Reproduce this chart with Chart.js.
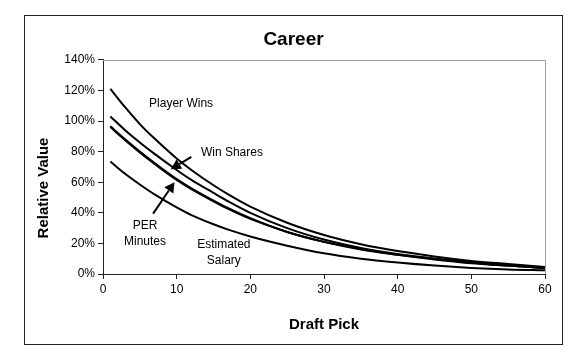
<!DOCTYPE html>
<html>
<head>
<meta charset="utf-8">
<script src="https://cdn.jsdelivr.net/npm/chart.js@4/dist/chart.umd.min.js"></script>
<style>
  html, body { margin: 0; padding: 0; background: #fff; }
  #chart { display: block; }
</style>
</head>
<body>
<canvas id="chart" width="580" height="353"></canvas>
<script>
// draft pick positions
const picks = [1, 3, 5, 7, 10, 12, 15, 17, 20, 25, 30, 35, 40, 45, 50, 55, 60];

// relative value, in percent
const playerWins = [121, 109, 98, 88.5, 75.5, 68, 58, 52, 44, 33.5, 25.5, 19.5, 15, 11.5, 8.5, 6.5, 4.5];
const winShares  = [103, 94, 86, 78.5, 68, 61.5, 53, 47.5, 40, 30, 22.5, 17, 13, 10, 7.5, 5.5, 4];
const per        = [96.5, 88, 80, 72.5, 62, 56, 48, 43, 36.5, 27.5, 21, 16, 12.5, 9.5, 7, 5.5, 4];
const minutes    = [96, 87.5, 79.5, 72, 61.5, 55.5, 47.5, 42.5, 36, 27.5, 21, 16.5, 12.5, 10, 7.5, 5.5, 4];
const salary     = [73.5, 65.5, 58.5, 52, 43.5, 38.5, 32.5, 29, 24.5, 18.5, 13.5, 10, 7.5, 5.5, 4, 3, 2.5];

const seriesNames = ['Player Wins', 'Win Shares', 'PER', 'Minutes', 'Estimated Salary'];
const seriesValues = [playerWins, winShares, per, minutes, salary];

const xTicks = [0, 10, 20, 30, 40, 50, 60];
const yTicks = [0, 20, 40, 60, 80, 100, 120, 140];

// in-plot labels and arrows, placed in data units
const notes = [
    { lines: ['Player Wins'], x: 10.6, y: 111 },
    { lines: ['Win Shares'], x: 17.5, y: 79 },
    { lines: ['PER', 'Minutes'], x: 5.7, y: 31.5 },
    { lines: ['Estimated', 'Salary'], x: 16.4, y: 19 }
];
const arrows = [
    { from: [12.0, 76.5], to: [9.2, 68.5] },
    { from: [6.8, 39.5], to: [9.7, 60] }
];

const FONT = '"Liberation Sans", Arial, sans-serif';

const frame = {
    id: 'frame',
    beforeDraw(chart) {
        const c = chart.ctx;
        c.save();
        c.fillStyle = '#fff';
        c.fillRect(0, 0, chart.width, chart.height);
        c.strokeStyle = '#222';
        c.lineWidth = 1;
        c.strokeRect(24.5, 15.5, 538, 329);
        c.restore();
    },
    beforeDatasetsDraw(chart) {
        const { left, top, right, bottom } = chart.chartArea;
        const c = chart.ctx;
        c.save();
        c.strokeStyle = '#a0a0a0';
        c.lineWidth = 1;
        c.beginPath();
        c.moveTo(left, Math.round(top) + 0.5);
        c.lineTo(Math.round(right) + 0.5, Math.round(top) + 0.5);
        c.lineTo(Math.round(right) + 0.5, bottom);
        c.stroke();
        c.restore();
    },
    afterDatasetsDraw(chart) {
        const c = chart.ctx;
        const xs = chart.scales.x, ys = chart.scales.y;
        c.save();
        c.fillStyle = '#000';
        c.font = '12px ' + FONT;
        c.textAlign = 'center';
        c.textBaseline = 'middle';
        notes.forEach(n => {
            const px = xs.getPixelForValue(n.x);
            const py = ys.getPixelForValue(n.y);
            n.lines.forEach((t, i) => c.fillText(t, px, py + i * 16));
        });

        c.strokeStyle = '#000';
        c.lineWidth = 2;
        arrows.forEach(a => {
            const x1 = xs.getPixelForValue(a.from[0]), y1 = ys.getPixelForValue(a.from[1]);
            const x2 = xs.getPixelForValue(a.to[0]), y2 = ys.getPixelForValue(a.to[1]);
            const ang = Math.atan2(y2 - y1, x2 - x1);
            const head = 10, wing = 5.5;
            const bx = x2 - head * Math.cos(ang), by = y2 - head * Math.sin(ang);
            c.beginPath();
            c.moveTo(x1, y1);
            c.lineTo(bx, by);
            c.stroke();
            c.beginPath();
            c.moveTo(x2, y2);
            c.lineTo(bx + wing * Math.sin(ang), by - wing * Math.cos(ang));
            c.lineTo(bx - wing * Math.sin(ang), by + wing * Math.cos(ang));
            c.closePath();
            c.fill();
        });

        // y axis title, sits a bit below the plot middle like the original
        c.font = 'bold 15px ' + FONT;
        c.translate(44, 188);
        c.rotate(-Math.PI / 2);
        c.fillText('Relative Value', 0, 0);
        c.restore();
    }
};

new Chart(document.getElementById('chart'), {
    type: 'line',
    data: {
        datasets: seriesValues.map((vals, i) => ({
            label: seriesNames[i],
            data: picks.map((p, j) => ({ x: p, y: vals[j] })),
            borderColor: '#000',
            borderWidth: 2,
            pointRadius: 0,
            fill: false,
            cubicInterpolationMode: 'monotone'
        }))
    },
    options: {
        responsive: false,
        animation: false,
        devicePixelRatio: 1,
        layout: { padding: { left: 24, right: 17, top: 15, bottom: 8 } },
        plugins: {
            legend: { display: false },
            tooltip: { enabled: false },
            title: {
                display: true,
                text: 'Career',
                color: '#000',
                font: { family: FONT, size: 19, weight: 'bold' },
                padding: { top: 13, bottom: 9 }
            }
        },
        scales: {
            x: {
                type: 'linear',
                min: 0,
                max: 60,
                afterBuildTicks: s => { s.ticks = xTicks.map(v => ({ value: v })); },
                afterFit: s => { s.height = 71; },
                ticks: { color: '#000', font: { family: FONT, size: 12 }, padding: 3 },
                grid: { drawOnChartArea: false, tickLength: 5, color: '#222' },
                border: { color: '#222', width: 1 },
                title: {
                    display: true,
                    text: 'Draft Pick',
                    color: '#000',
                    font: { family: FONT, size: 15, weight: 'bold' },
                    padding: { top: 0, bottom: 11 }
                }
            },
            y: {
                min: 0,
                max: 140,
                afterBuildTicks: s => { s.ticks = yTicks.map(v => ({ value: v })); },
                afterFit: s => { s.width = 79; },
                ticks: { color: '#000', font: { family: FONT, size: 12 }, padding: 3, callback: v => v + '%' },
                grid: { drawOnChartArea: false, tickLength: 5, color: '#222' },
                border: { color: '#222', width: 1 }
            },
            yRight: {
                position: 'right',
                display: true,
                afterFit: s => { s.width = 18; },
                ticks: { display: false },
                grid: { display: false },
                border: { display: false }
            }
        }
    },
    plugins: [frame]
});
</script>
</body>
</html>
